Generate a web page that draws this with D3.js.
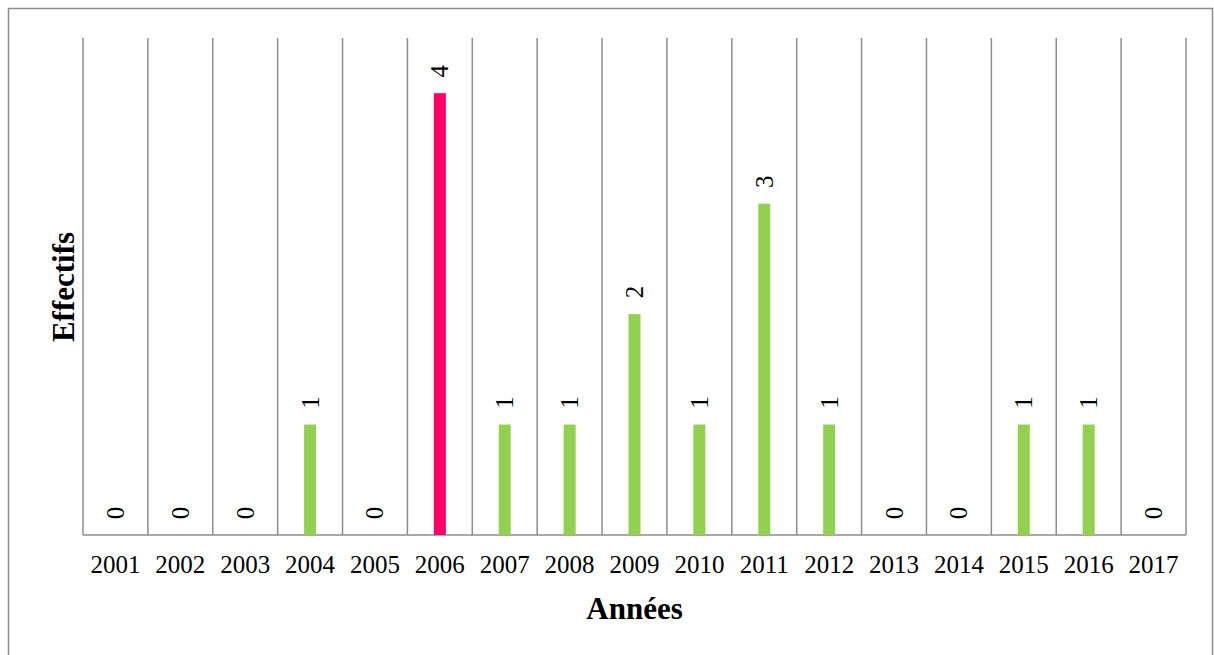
<!DOCTYPE html>
<html><head><meta charset="utf-8">
<script src="https://cdn.jsdelivr.net/npm/d3@7"></script>
<style>body{margin:0;background:#fff}</style>
</head><body>
<script>
const years = ["2001","2002","2003","2004","2005","2006","2007","2008","2009","2010","2011","2012","2013","2014","2015","2016","2017"];
const effectifs = [0,0,0,1,0,4,1,1,2,1,3,1,0,0,1,1,0];
const highlightYear = "2006";
const xTitle = "Années";
const yTitle = "Effectifs";

const W = 1214, H = 655;
const FONT = "'Liberation Serif', 'Times New Roman', serif";
const svg = d3.select("body").append("svg").attr("width", W).attr("height", H);
svg.append("rect").attr("x", 8.5).attr("y", 8.5).attr("width", 1204).attr("height", 660)
  .attr("fill", "none").attr("stroke", "#8c8c8c").attr("stroke-width", 1.5);

const m = {l: 83, r: 1186, t: 38, b: 535};
const x = d3.scaleBand().domain(years).range([m.l, m.r]);
const y = d3.scaleLinear().domain([0, 4.5]).range([m.b, m.t]);

// vertical gridlines at category boundaries
const bounds = years.map(d => x(d)).concat([m.r]);
svg.append("g").selectAll("line").data(bounds).join("line")
  .attr("x1", d => d).attr("x2", d => d).attr("y1", m.t).attr("y2", m.b)
  .attr("stroke", "#8c8c8c").attr("stroke-width", 1.5);
svg.append("line").attr("x1", m.l).attr("x2", m.r).attr("y1", m.b).attr("y2", m.b)
  .attr("stroke", "#8c8c8c").attr("stroke-width", 1.5);

const bw = 12;
svg.append("g").selectAll("rect").data(years).join("rect")
  .attr("x", (d) => x(d) + x.bandwidth()/2 - bw/2)
  .attr("y", (d,i) => y(effectifs[i]))
  .attr("width", bw)
  .attr("height", (d,i) => m.b - y(effectifs[i]))
  .attr("fill", d => d === highlightYear ? "#ff0066" : "#92d050");

svg.append("g").selectAll("text").data(years).join("text")
  .attr("transform", (d,i) => `translate(${x(d) + x.bandwidth()/2 + 8.5},${y(effectifs[i]) - 22}) rotate(-90)`)
  .attr("text-anchor", "middle")
  .style("font-family", FONT)
  .attr("font-size", 25).attr("fill", "#000")
  .text((d,i) => effectifs[i]);

const xAxis = d3.axisBottom(x).tickSize(0).tickPadding(0);
const gx = svg.append("g").attr("transform", `translate(0,${m.b})`).call(xAxis);
gx.select(".domain").remove();
gx.selectAll("text").style("font-family", FONT)
  .attr("font-size", 25).attr("fill", "#000").attr("dy", null).attr("y", 38);

svg.append("text").attr("x", (m.l + m.r)/2).attr("y", 619).attr("text-anchor", "middle")
  .style("font-family", FONT).attr("font-weight", "bold")
  .attr("font-size", 31).text(xTitle);
svg.append("text").attr("transform", `translate(74,${287}) rotate(-90)`).attr("text-anchor", "middle")
  .style("font-family", FONT).attr("font-weight", "bold")
  .attr("font-size", 31).text(yTitle);
</script>
</body></html>
